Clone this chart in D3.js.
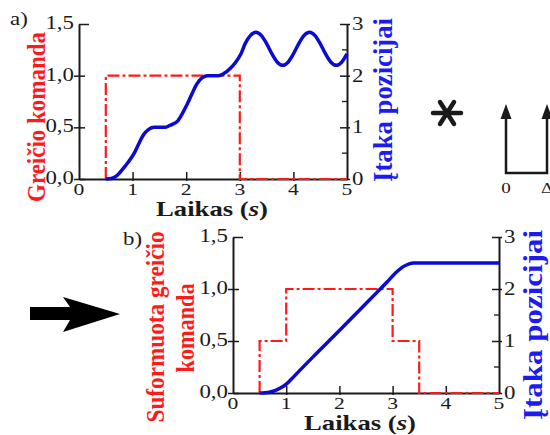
<!DOCTYPE html>
<html>
<head>
<meta charset="utf-8">
<script src="https://cdn.jsdelivr.net/npm/d3@7"></script>
<style>
  body { margin: 0; background: #fff; }
  svg { display: block; }
</style>
</head>
<body>
<svg id="chart" width="550" height="435"></svg>
<script>
// shared ticks
var timeTicks = [0, 1, 2, 3, 4, 5]
var cmdTicks = [0, 0.5, 1.0, 1.5]
var cmdTickLabels = ["0,0", "0,5", "1,0", "1,5"]
var posTicks = [0, 1, 2, 3]
var posMinor = [0.5, 1.5, 2.5]

// a) unshaped command and resulting position
var cmdATime  = [0.5, 0.5, 3, 3, 5]
var cmdAValue = [0, 1, 1, 0, 0]
var posATime  = [0.5, 0.6, 0.7, 0.83, 0.92, 1.02, 1.1, 1.2, 1.3, 1.4, 1.6, 1.7, 1.84, 1.93, 2.02, 2.1, 2.2, 2.3, 2.4, 2.6, 2.7, 2.83, 2.93, 3.02, 3.1, 3.2, 3.3, 3.4, 3.5, 3.55, 3.6, 3.7, 3.8, 3.9, 4.0, 4.05, 4.1, 4.2, 4.3, 4.4, 4.5, 4.55, 4.6, 4.7, 4.8, 4.9, 5.0]
var posAValue = [0, 0.01, 0.06, 0.21, 0.33, 0.48, 0.65, 0.85, 0.96, 1.0, 1.0, 1.04, 1.12, 1.27, 1.45, 1.63, 1.84, 1.96, 2.0, 2.0, 2.04, 2.15, 2.27, 2.42, 2.62, 2.78, 2.84, 2.78, 2.62, 2.52, 2.42, 2.26, 2.2, 2.26, 2.42, 2.52, 2.62, 2.78, 2.84, 2.78, 2.62, 2.52, 2.42, 2.26, 2.2, 2.26, 2.42]

// b) shaped command and resulting position
var cmdBTime  = [0.5, 0.5, 1, 1, 3, 3, 3.5, 3.5, 5]
var cmdBValue = [0, 0.5, 0.5, 1, 1, 0.5, 0.5, 0, 0]
var posBTime  = [0.5, 0.6, 0.7, 0.8, 0.9, 1.0, 1.1, 1.26, 1.5, 2.0, 2.5, 2.71, 2.9, 3.0, 3.1, 3.2, 3.3, 3.4, 3.5, 5.0]
var posBValue = [0, 0.005, 0.02, 0.05, 0.1, 0.17, 0.27, 0.44, 0.69, 1.2, 1.72, 1.94, 2.14, 2.25, 2.35, 2.43, 2.48, 2.5, 2.5, 2.5]

var SX = 1.27 // the picture is stretched sideways
var serif = "'Liberation Serif', 'Times New Roman', serif"
var red = "#ff1a1a", blue = "#0a0ad2", textBlue = "#1c1cf0", ink = "#1a1a1a"

var svg = d3.select("#chart")

function label(g, x, y, str, size, opts) {
  opts = opts || {}
  return g.append("text")
    .attr("transform", "translate(" + x + "," + y + ") scale(" + SX + ",1)")
    .attr("text-anchor", opts.anchor || "start")
    .style("font-family", serif)
    .style("font-size", size + "px")
    .style("font-weight", opts.bold ? "bold" : "normal")
    .attr("fill", opts.fill || ink)
    .text(str)
}

function vlabel(g, x, y, str, size, len, fill) {
  g.append("text")
    .attr("transform", "translate(" + x + "," + y + ") rotate(-90) scale(1,1.18)")
    .attr("text-anchor", "middle")
    .style("font-family", serif)
    .style("font-size", size + "px")
    .style("font-weight", "bold")
    .attr("fill", fill)
    .attr("textLength", len)
    .attr("lengthAdjust", "spacingAndGlyphs")
    .text(str)
}

function drawPanel(p) {
  var g = svg.append("g")
  var x = d3.scaleLinear().domain([0, 5]).range([p.left, p.right])
  var yc = d3.scaleLinear().domain([0, 1.5]).range([p.bottom, p.top])
  var yp = d3.scaleLinear().domain([0, 3]).range([p.bottom, p.top])

  // left axis
  var gl = g.append("g").attr("transform", "translate(" + p.left + ",0)")
    .call(d3.axisLeft(yc).tickValues(cmdTicks).tickSizeInner(-6).tickSizeOuter(0))
  gl.selectAll(".tick line").attr("x1", -5).attr("x2", 6)
  gl.select(".tick:last-of-type line").attr("x1", 0).attr("x2", 10)
  gl.selectAll(".tick text").remove()
  cmdTicks.forEach(function(v, i) {
    label(g, p.left - 5, yc(v) + 5, cmdTickLabels[i], 18, {anchor: "end"})
  })

  // right axis
  var gr = g.append("g").attr("transform", "translate(" + p.right + ",0)")
    .call(d3.axisRight(yp).tickValues(posTicks).tickSizeInner(-7).tickSizeOuter(0))
  gr.selectAll(".tick line").attr("x1", -7).attr("x2", 3)
  gr.selectAll(".tick text").remove()
  posMinor.forEach(function(v) {
    g.append("line").attr("x1", p.right - 5).attr("x2", p.right)
      .attr("y1", yp(v)).attr("y2", yp(v))
      .attr("stroke", ink).attr("stroke-width", 1.3)
  })
  posTicks.forEach(function(v) {
    label(g, p.right + 5, yp(v) + 6, String(v), 18)
  })

  // bottom axis
  var gb = g.append("g").attr("transform", "translate(0," + p.bottom + ")")
    .call(d3.axisBottom(x).tickValues(timeTicks.slice(1, -1)).tickSizeInner(-7).tickSizeOuter(0))
  gb.selectAll(".tick line").attr("y1", 2).attr("y2", -7)
  gb.selectAll(".tick text").remove()
  timeTicks.forEach(function(v) {
    label(g, x(v), p.bottom + 16, String(v), 17, {anchor: "middle"})
  })

  g.selectAll(".domain").attr("stroke", ink).attr("stroke-width", 2)
  g.selectAll(".tick line").attr("stroke", ink).attr("stroke-width", 1.5)

  var cmdLine = d3.line().x(function(d) { return x(d[0]) }).y(function(d) { return yc(d[1]) })
  var posLine = d3.line().curve(d3.curveMonotoneX)
    .x(function(d) { return x(d[0]) }).y(function(d) { return yp(d[1]) })

  g.append("path").datum(d3.zip(p.cmdTime, p.cmdValue))
    .attr("d", cmdLine).attr("fill", "none")
    .attr("stroke", red).attr("stroke-width", 2.2)
    .attr("stroke-dasharray", "12,3,3,3")
  g.append("path").datum(d3.zip(p.posTime, p.posValue))
    .attr("d", posLine).attr("fill", "none")
    .attr("stroke", blue).attr("stroke-width", 3.5)

  var xl = label(g, p.xlabel[0], p.xlabel[1], "Laikas (", 21, {anchor: "middle", bold: true})
  xl.append("tspan").style("font-style", "italic").text("s")
  xl.append("tspan").text(")")
  return g
}

var ga = drawPanel({left: 79, right: 347, top: 24, bottom: 179,
  cmdTime: cmdATime, cmdValue: cmdAValue, posTime: posATime, posValue: posAValue,
  xlabel: [212, 216]})
label(ga, 10, 25, "a)", 18)
vlabel(ga, 45, 117, "Greičio komanda", 22, 170, red)
vlabel(ga, 392, 100, "Įtaka pozicijai", 24, 164, textBlue)

var gbp = drawPanel({left: 233, right: 499, top: 237, bottom: 393,
  cmdTime: cmdBTime, cmdValue: cmdBValue, posTime: posBTime, posValue: posBValue,
  xlabel: [360, 430]})
label(gbp, 123, 245, "b)", 18)
vlabel(gbp, 164, 327, "Suformuota greičio", 22, 191, red)
vlabel(gbp, 194, 328, "komanda", 22, 89, red)
vlabel(gbp, 542, 325, "Įtaka pozicijai", 24, 190, textBlue)

// convolution sign and impulse pair
var deco = svg.append("g").attr("stroke", ink).attr("fill", ink)
var cx = 447, cy = 113
;[[14, 0], [7, 11], [-7, 11]].forEach(function(d) {
  deco.append("line").attr("x1", cx - d[0]).attr("y1", cy - d[1])
    .attr("x2", cx + d[0]).attr("y2", cy + d[1])
    .attr("stroke-width", 4.5).attr("stroke-linecap", "round")
})
deco.append("path").attr("fill", "none").attr("stroke-width", 2.5)
  .attr("d", "M506,116V173H547V116")
;[506, 547].forEach(function(ax) {
  deco.append("path").attr("stroke", "none")
    .attr("d", "M" + ax + ",104L" + (ax + 5.5) + ",119L" + (ax - 5.5) + ",119Z")
})
label(svg, 506, 193, "0", 15, {anchor: "middle"})
label(svg, 541, 193, "Δ", 15, {anchor: "start"})

// big arrow towards panel b
svg.append("path").attr("fill", "#000")
  .attr("d", "M30,307H70L63,297L120,314L63,332L70,320H30Z")
</script>
</body>
</html>
